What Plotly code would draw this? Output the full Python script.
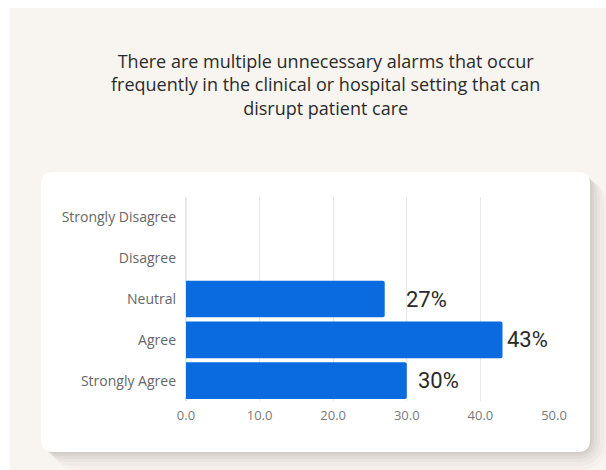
import plotly.graph_objects as go

# Survey responses (percent of respondents)
categories = ["Strongly Disagree", "Disagree", "Neutral", "Agree", "Strongly Agree"]
percentages = [0, 0, 27, 43, 30]
label_texts = ["", "", "27%", "43%", "30%"]
x_ticks = [0, 10, 20, 30, 40, 50]
x_tick_labels = ["0.0", "10.0", "20.0", "30.0", "40.0", "50.0"]

title_text = ("There are multiple unnecessary alarms that occur<br>"
              "frequently in the clinical or hospital setting that can<br>"
              "disrupt patient care")

W, H = 606, 470
ML, MR, MT, MB = 186, 52, 197, 69
PW, PH = W - ML - MR, H - MT - MB


def px(x):
    return (x - ML) / PW


def py(y):
    return (H - MB - y) / PH


def rounded_rect(x0, y0, x1, y1, r):
    """Path for a rounded rectangle given in pixel coordinates."""
    rx, ry = r / PW, r / PH
    X0, X1 = px(x0), px(x1)
    Y0, Y1 = py(y0), py(y1)  # Y0 is top (larger), Y1 bottom
    return (f"M {X0 + rx} {Y0} L {X1 - rx} {Y0} Q {X1} {Y0} {X1} {Y0 - ry} "
            f"L {X1} {Y1 + ry} Q {X1} {Y1} {X1 - rx} {Y1} "
            f"L {X0 + rx} {Y1} Q {X0} {Y1} {X0} {Y1 + ry} "
            f"L {X0} {Y0 - ry} Q {X0} {Y0} {X0 + rx} {Y0} Z")


shapes = [
    # page background panel
    dict(type="rect", xref="paper", yref="paper", x0=px(10), x1=px(W + 5),
         y0=py(8), y1=py(H + 5), fillcolor="#f8f5f1", line_width=0, layer="below"),
]
# soft card shadow
for off, alpha in [(18, 0.03), (14, 0.04), (10, 0.05), (7, 0.06), (4, 0.07), (2, 0.06)]:
    shapes.append(dict(type="path", xref="paper", yref="paper",
                       path=rounded_rect(41 + off * 0.5, 172 + off * 0.4, 590 + off, 452 + off, 14 + off),
                       fillcolor=f"rgba(120,110,100,{alpha})", line_width=0, layer="below"))
# white card
shapes.append(dict(type="path", xref="paper", yref="paper",
                   path=rounded_rect(41, 172, 590, 452, 12),
                   fillcolor="#ffffff", line_width=0, layer="below"))

fig = go.Figure(go.Bar(
    x=percentages,
    y=categories,
    orientation="h",
    marker=dict(color="#0a6ae0", cornerradius=2, line_width=0),
    width=0.9,
    hoverinfo="skip",
))

label_shift = [0, 0, 19, 3, 9]
annotations = []
for cat, val, txt, dx in zip(categories, percentages, label_texts, label_shift):
    if txt:
        annotations.append(dict(x=val, y=cat, text=txt, showarrow=False,
                                xanchor="left", yanchor="middle", xshift=dx,
                                font=dict(family="Roboto, sans-serif", size=22, color="#2a2a2a")))

annotations.append(dict(x=px(325), y=py(84), xref="paper", yref="paper", text=title_text,
                        showarrow=False, xanchor="center", yanchor="middle",
                        font=dict(family="Open Sans, sans-serif", size=18, color="#2b2b2b")))

fig.update_layout(
    width=W, height=H,
    margin=dict(l=ML, r=MR, t=MT, b=MB, pad=0),
    paper_bgcolor="#ffffff",
    plot_bgcolor="rgba(0,0,0,0)",
    shapes=shapes,
    annotations=annotations,
    showlegend=False,
    xaxis=dict(range=[0, 50], tickvals=x_ticks, ticktext=x_tick_labels,
               showgrid=True, gridcolor="#e8e8e8", gridwidth=1,
               zeroline=True, zerolinecolor="#e8e8e8", showline=False,
               ticks="", ticklabelstandoff=5,
               tickfont=dict(family="Open Sans, sans-serif", size=13, color="#7a7a7a"),
               fixedrange=True),
    yaxis=dict(categoryorder="array", categoryarray=categories, autorange="reversed",
               showgrid=False, zeroline=False, showline=False,
               ticks="", ticklabelstandoff=9,
               tickfont=dict(family="Open Sans, sans-serif", size=14, color="#666666"),
               fixedrange=True),
)

fig.write_html("out.html", config={"displayModeBar": False})
